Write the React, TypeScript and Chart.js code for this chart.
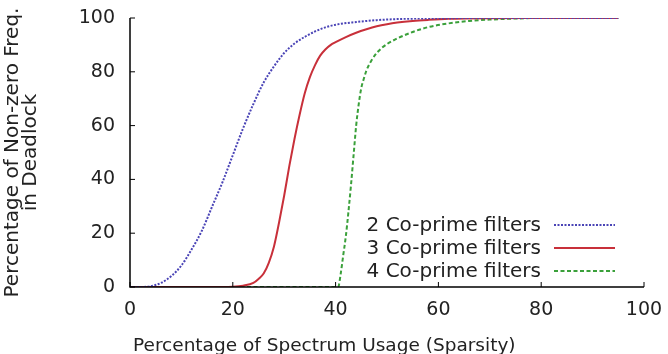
import React, { useEffect, useRef } from "react";
import { Chart, registerables } from "chart.js";

Chart.register(...registerables);

// Series: x = percentage of spectrum usage, y = percentage of non-zero freq. in deadlock
const blueX = [0, 2, 4, 6, 8, 10, 12, 14, 16, 18, 20, 22, 24, 26, 28, 30, 32, 34, 36, 38, 40, 44, 48, 52, 60, 70, 80, 95];
const blueY = [0, 0, 0.3, 1.5, 4, 8, 14, 21, 30, 39, 49, 59, 68, 76, 82, 87, 90.5, 93, 95, 96.5, 97.5, 98.5, 99.2, 99.6, 99.9, 100, 100, 100];

const redX = [0, 18, 20, 22, 24, 25, 26, 27, 28, 29, 30, 31, 32, 33, 34, 35, 36, 37, 38, 39, 40, 42, 44, 46, 48, 50, 52, 55, 58, 62, 70, 80, 95];
const redY = [0, 0, 0.1, 0.5, 1.5, 3, 5, 9, 15, 24, 34, 45, 55, 64, 72, 78, 82.5, 86, 88.3, 89.9, 91, 92.9, 94.5, 95.8, 96.9, 97.7, 98.3, 98.9, 99.3, 99.7, 99.95, 100, 100];

const greenX = [0, 40, 40.5, 41, 41.5, 42, 42.5, 43, 43.5, 44, 44.5, 45, 45.5, 46, 47, 48, 49, 50, 52, 55, 58, 62, 66, 70, 75, 80, 95];
const greenY = [0, 0, 0, 5, 12, 19, 28, 38, 49, 60, 68, 74, 77.5, 80.5, 84.3, 87, 88.9, 90.3, 92.4, 94.8, 96.6, 98, 98.9, 99.4, 99.8, 100, 100];

const seriesLabels = ["2 Co-prime filters", "3 Co-prime filters", "4 Co-prime filters"];
const xTicks = [0, 20, 40, 60, 80, 100];
const yTicks = [0, 20, 40, 60, 80, 100];
const xTitle = "Percentage of Spectrum Usage (Sparsity)";
const yTitleLines = ["Percentage of Non-zero Freq.", "in Deadlock"];

const FONT = "'DejaVu Sans', 'Liberation Sans', Arial, sans-serif";
const colors = ["#4a44b6", "#c8303a", "#3aa03a"];
const dashes = [[2, 1.5], [], [4, 2.5]];

const toPts = (xs: number[], ys: number[]) => xs.map((x, i) => ({ x, y: ys[i] }));

export default function App() {
  const ref = useRef<HTMLCanvasElement | null>(null);

  useEffect(() => {
    if (!ref.current) return;

    const decor = {
      id: "decor",
      afterDraw(chart: any) {
        const { ctx, chartArea, scales } = chart;
        const xs = scales.x;
        const ys = scales.y;
        ctx.save();
        // axes
        ctx.strokeStyle = "#000";
        ctx.lineWidth = 1.5;
        ctx.beginPath();
        ctx.moveTo(chartArea.left, chartArea.top);
        ctx.lineTo(chartArea.left, chartArea.bottom);
        ctx.lineTo(chartArea.right, chartArea.bottom);
        ctx.stroke();
        // inward ticks
        ctx.lineWidth = 1;
        ctx.beginPath();
        xTicks.forEach((t) => {
          const px = xs.getPixelForValue(t);
          ctx.moveTo(px, chartArea.bottom);
          ctx.lineTo(px, chartArea.bottom - 5);
        });
        yTicks.forEach((t) => {
          const py = ys.getPixelForValue(t);
          ctx.moveTo(chartArea.left, py);
          ctx.lineTo(chartArea.left + 5, py);
        });
        ctx.stroke();

        // x title
        ctx.fillStyle = "#222";
        ctx.font = `18.5px ${FONT}`;
        ctx.textAlign = "left";
        ctx.textBaseline = "alphabetic";
        ctx.fillText(xTitle, 133, 351);

        // y title (two lines, rotated)
        const cy = (chartArea.top + chartArea.bottom) / 2;
        ctx.save();
        ctx.font = `20px ${FONT}`;
        ctx.translate(18, cy);
        ctx.rotate(-Math.PI / 2);
        ctx.textAlign = "center";
        ctx.fillText(yTitleLines[0], 0, 0);
        ctx.fillText(yTitleLines[1], 0, 17.5);
        ctx.restore();

        // legend
        const rowsY = [225, 248, 271];
        ctx.font = `20px ${FONT}`;
        ctx.textAlign = "right";
        ctx.textBaseline = "middle";
        seriesLabels.forEach((lab, i) => {
          ctx.fillStyle = "#222";
          ctx.fillText(lab, 541, rowsY[i] + 1);
          ctx.strokeStyle = colors[i];
          ctx.lineWidth = 2;
          ctx.setLineDash(dashes[i]);
          ctx.beginPath();
          ctx.moveTo(554, rowsY[i]);
          ctx.lineTo(615, rowsY[i]);
          ctx.stroke();
          ctx.setLineDash([]);
        });
        ctx.restore();
      },
    };

    const mk = (i: number, xs: number[], ys: number[]) => ({
      label: seriesLabels[i],
      data: toPts(xs, ys),
      borderColor: colors[i],
      backgroundColor: colors[i],
      borderWidth: 2,
      borderDash: dashes[i],
      pointRadius: 0,
      fill: false,
      cubicInterpolationMode: "monotone" as const,
    });

    const chart = new Chart(ref.current, {
      type: "line",
      data: {
        datasets: [mk(0, blueX, blueY), mk(1, redX, redY), mk(2, greenX, greenY)],
      },
      options: {
        animation: false,
        responsive: false,
        maintainAspectRatio: false,
        layout: { padding: { top: 18, right: 24, left: 0, bottom: 0 } },
        plugins: { legend: { display: false }, tooltip: { enabled: false } },
        scales: {
          x: {
            type: "linear",
            min: 0,
            max: 100,
            afterBuildTicks: (s: any) => {
              s.ticks = xTicks.map((v) => ({ value: v }));
            },
            afterFit: (s: any) => {
              s.height = 67;
              s.paddingLeft = 0;
              s.paddingRight = 0;
            },
            grid: { display: false, drawTicks: false },
            border: { display: false },
            ticks: {
              color: "#222",
              font: { family: FONT, size: 19 },
              padding: 12,
              maxRotation: 0,
            },
          },
          y: {
            type: "linear",
            min: 0,
            max: 100,
            afterBuildTicks: (s: any) => {
              s.ticks = yTicks.map((v) => ({ value: v }));
            },
            afterFit: (s: any) => {
              s.width = 130;
              s.paddingTop = 0;
              s.paddingBottom = 0;
            },
            grid: { display: false, drawTicks: false },
            border: { display: false },
            ticks: {
              color: "#222",
              font: { family: FONT, size: 19 },
              padding: 15,
            },
          },
        },
      },
      plugins: [decor],
    });

    return () => chart.destroy();
  }, []);

  return (
    <div style={{ position: "fixed", left: 0, top: 0, width: 668, height: 354, background: "#fff" }}>
      <canvas ref={ref} width={668} height={354} />
    </div>
  );
}
